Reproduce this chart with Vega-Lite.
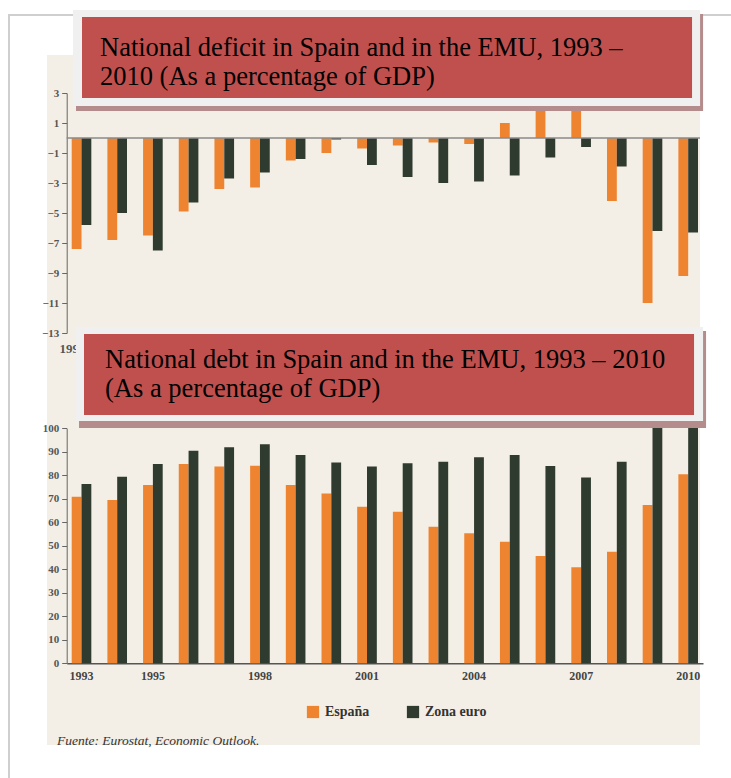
{
  "$schema": "https://vega.github.io/schema/vega-lite/v6.json",
  "width": 653,
  "height": 690,
  "autosize": {"type": "none"},
  "padding": {"left": 47, "top": 55, "right": 31, "bottom": 33},
  "background": "white",
  "view": {"fill": "#f3efe6", "stroke": null},
  "config": {"view": {"stroke": null}},
  "datasets": {
    "deficit": [
      {"year": 1993, "series": "España", "value": -7.4},
      {"year": 1993, "series": "Zona euro", "value": -5.8},
      {"year": 1994, "series": "España", "value": -6.8},
      {"year": 1994, "series": "Zona euro", "value": -5.0},
      {"year": 1995, "series": "España", "value": -6.5},
      {"year": 1995, "series": "Zona euro", "value": -7.5},
      {"year": 1996, "series": "España", "value": -4.9},
      {"year": 1996, "series": "Zona euro", "value": -4.3},
      {"year": 1997, "series": "España", "value": -3.4},
      {"year": 1997, "series": "Zona euro", "value": -2.7},
      {"year": 1998, "series": "España", "value": -3.3},
      {"year": 1998, "series": "Zona euro", "value": -2.3},
      {"year": 1999, "series": "España", "value": -1.5},
      {"year": 1999, "series": "Zona euro", "value": -1.4},
      {"year": 2000, "series": "España", "value": -1.0},
      {"year": 2000, "series": "Zona euro", "value": -0.1},
      {"year": 2001, "series": "España", "value": -0.7},
      {"year": 2001, "series": "Zona euro", "value": -1.8},
      {"year": 2002, "series": "España", "value": -0.5},
      {"year": 2002, "series": "Zona euro", "value": -2.6},
      {"year": 2003, "series": "España", "value": -0.3},
      {"year": 2003, "series": "Zona euro", "value": -3.0},
      {"year": 2004, "series": "España", "value": -0.4},
      {"year": 2004, "series": "Zona euro", "value": -2.9},
      {"year": 2005, "series": "España", "value": 1.0},
      {"year": 2005, "series": "Zona euro", "value": -2.5},
      {"year": 2006, "series": "España", "value": 2.0},
      {"year": 2006, "series": "Zona euro", "value": -1.3},
      {"year": 2007, "series": "España", "value": 2.0},
      {"year": 2007, "series": "Zona euro", "value": -0.6},
      {"year": 2008, "series": "España", "value": -4.2},
      {"year": 2008, "series": "Zona euro", "value": -1.9},
      {"year": 2009, "series": "España", "value": -11.0},
      {"year": 2009, "series": "Zona euro", "value": -6.2},
      {"year": 2010, "series": "España", "value": -9.2},
      {"year": 2010, "series": "Zona euro", "value": -6.3}
    ],
    "debt": [
      {"year": 1993, "series": "España", "value": 70.9},
      {"year": 1993, "series": "Zona euro", "value": 76.3},
      {"year": 1994, "series": "España", "value": 69.5},
      {"year": 1994, "series": "Zona euro", "value": 79.4},
      {"year": 1995, "series": "España", "value": 75.9},
      {"year": 1995, "series": "Zona euro", "value": 84.8},
      {"year": 1996, "series": "España", "value": 84.8},
      {"year": 1996, "series": "Zona euro", "value": 90.5},
      {"year": 1997, "series": "España", "value": 83.7},
      {"year": 1997, "series": "Zona euro", "value": 91.9},
      {"year": 1998, "series": "España", "value": 84.1},
      {"year": 1998, "series": "Zona euro", "value": 93.2},
      {"year": 1999, "series": "España", "value": 75.9},
      {"year": 1999, "series": "Zona euro", "value": 88.6},
      {"year": 2000, "series": "España", "value": 72.3},
      {"year": 2000, "series": "Zona euro", "value": 85.5},
      {"year": 2001, "series": "España", "value": 66.6},
      {"year": 2001, "series": "Zona euro", "value": 83.7},
      {"year": 2002, "series": "España", "value": 64.5},
      {"year": 2002, "series": "Zona euro", "value": 85.1},
      {"year": 2003, "series": "España", "value": 58.1},
      {"year": 2003, "series": "Zona euro", "value": 85.8},
      {"year": 2004, "series": "España", "value": 55.3},
      {"year": 2004, "series": "Zona euro", "value": 87.7},
      {"year": 2005, "series": "España", "value": 51.7},
      {"year": 2005, "series": "Zona euro", "value": 88.6},
      {"year": 2006, "series": "España", "value": 45.7},
      {"year": 2006, "series": "Zona euro", "value": 84.0},
      {"year": 2007, "series": "España", "value": 40.9},
      {"year": 2007, "series": "Zona euro", "value": 79.1},
      {"year": 2008, "series": "España", "value": 47.5},
      {"year": 2008, "series": "Zona euro", "value": 85.8},
      {"year": 2009, "series": "España", "value": 67.4},
      {"year": 2009, "series": "Zona euro", "value": 106},
      {"year": 2010, "series": "España", "value": 80.5},
      {"year": 2010, "series": "Zona euro", "value": 108}
    ]
  },
  "layer": [
    {
      "data": {"values": [{}]},
      "mark": {"type": "rect", "filled": false, "stroke": "#cfcfcf", "strokeWidth": 2},
      "encoding": {
        "x": {"datum": 1990.935, "type": "quantitative", "scale": {"domain": [1992, 2010.3], "range": [0, 653], "nice": false, "zero": false}, "axis": null},
        "x2": {"datum": 2013},
        "y": {"datum": 8.2, "type": "quantitative", "scale": {"domain": [-13, 3], "range": [278, 38], "nice": false, "zero": false}, "axis": null},
        "y2": {"datum": -46}
      }
    },
    {
      "data": {"name": "deficit"},
      "mark": {"type": "bar"},
      "encoding": {
        "x": {
          "field": "year", "type": "ordinal",
          "scale": {"type": "band", "range": [19.7, 656], "paddingInner": 0.45, "paddingOuter": 0.14},
          "axis": {"orient": "bottom", "offset": -412, "domain": false, "ticks": false, "values": [1993], "labelAngle": 0, "title": null, "labelFont": "Liberation Serif", "labelFontWeight": "bold", "labelFontSize": 13, "labelColor": "#555555", "labelPadding": 9, "labelAlign": "right", "labelOffset": 4}
        },
        "xOffset": {"field": "series", "type": "nominal", "sort": ["España", "Zona euro"]},
        "y": {
          "field": "value", "type": "quantitative",
          "scale": {"domain": [-13, 3], "range": [278, 38], "nice": false, "zero": false},
          "axis": {"orient": "left", "offset": -19.7, "values": [3, 1, -1, -3, -5, -7, -9, -11, -13], "title": null, "grid": false, "domainColor": "#666666", "tickColor": "#666666", "tickSize": 5, "labelPadding": 3, "labelFont": "Liberation Serif", "labelFontWeight": "bold", "labelFontSize": 11, "labelColor": "#555555"}
        },
        "color": {
          "field": "series", "type": "nominal",
          "scale": {"domain": ["España", "Zona euro"], "range": ["#ef8430", "#2f3b2e"]},
          "legend": {"title": null, "orient": "none", "direction": "horizontal", "legendX": 259, "legendY": 650, "padding": 0, "symbolType": "square", "symbolSize": 150, "symbolStrokeWidth": 0, "symbolOpacity": 1, "labelFont": "Liberation Serif", "labelFontWeight": "bold", "labelFontSize": 14, "labelColor": "#333333", "labelOffset": 5, "columnPadding": 36}
        }
      }
    },
    {
      "data": {"name": "debt"},
      "mark": {"type": "bar"},
      "encoding": {
        "x": {
          "field": "year", "type": "ordinal",
          "scale": {"type": "band", "range": [19.7, 656], "paddingInner": 0.45, "paddingOuter": 0.14},
          "axis": {"orient": "bottom", "offset": -81.7, "domain": true, "domainColor": "#555555", "domainWidth": 1.5, "ticks": false, "values": [1993, 1995, 1998, 2001, 2004, 2007, 2010], "labelAngle": 0, "title": null, "labelFont": "Liberation Serif", "labelFontWeight": "bold", "labelFontSize": 12, "labelColor": "#444444", "labelPadding": 7}
        },
        "xOffset": {"field": "series", "type": "nominal", "sort": ["España", "Zona euro"]},
        "y": {
          "field": "value", "type": "quantitative",
          "scale": {"domain": [0, 100], "range": [608.3, 373.3], "nice": false},
          "axis": {"orient": "left", "offset": -19.7, "values": [0, 10, 20, 30, 40, 50, 60, 70, 80, 90, 100], "title": null, "grid": false, "domainColor": "#666666", "tickColor": "#666666", "tickSize": 5, "labelPadding": 3, "labelFont": "Liberation Serif", "labelFontWeight": "bold", "labelFontSize": 11, "labelColor": "#555555"}
        },
        "color": {"field": "series", "type": "nominal"}
      }
    },
    {
      "data": {"values": [{}]},
      "mark": {"type": "rule", "color": "#8a8a8a", "strokeWidth": 1.5},
      "encoding": {
        "x": {"datum": 1992.552, "type": "quantitative", "scale": {"domain": [1992, 2010.3], "range": [0, 653], "nice": false, "zero": false}, "axis": null},
        "x2": {"datum": 2010.3},
        "y": {"datum": 0, "type": "quantitative", "scale": {"domain": [-13, 3], "range": [278, 38], "nice": false, "zero": false}, "axis": null}
      }
    },
    {
      "data": {"values": [{}]},
      "mark": {"type": "rect", "color": "#b48c8c"},
      "encoding": {
        "x": {"datum": 1992.813, "type": "quantitative", "scale": {"domain": [1992, 2010.3], "range": [0, 653], "nice": false, "zero": false}, "axis": null},
        "x2": {"datum": 2010.386},
        "y": {"datum": 8.267, "type": "quantitative", "scale": {"domain": [-13, 3], "range": [278, 38], "nice": false, "zero": false}, "axis": null},
        "y2": {"datum": 1.8}
      }
    },
    {
      "data": {"values": [{}]},
      "mark": {"type": "rect", "color": "#f0f0f0"},
      "encoding": {
        "x": {"datum": 1992.729, "type": "quantitative", "scale": {"domain": [1992, 2010.3], "range": [0, 653], "nice": false, "zero": false}, "axis": null},
        "x2": {"datum": 2010.302},
        "y": {"datum": 8.533, "type": "quantitative", "scale": {"domain": [-13, 3], "range": [278, 38], "nice": false, "zero": false}, "axis": null},
        "y2": {"datum": 2.133}
      }
    },
    {
      "data": {"values": [{}]},
      "mark": {"type": "rect", "color": "#c0504d"},
      "encoding": {
        "x": {"datum": 1992.981, "type": "quantitative", "scale": {"domain": [1992, 2010.3], "range": [0, 653], "nice": false, "zero": false}, "axis": null},
        "x2": {"datum": 2010.077},
        "y": {"datum": 8.067, "type": "quantitative", "scale": {"domain": [-13, 3], "range": [278, 38], "nice": false, "zero": false}, "axis": null},
        "y2": {"datum": 2.667}
      }
    },
    {
      "data": {"values": [{"label": "National deficit in Spain and in the EMU, 1993 –\n2010 (As a percentage of GDP)"}]},
      "mark": {"type": "text", "align": "left", "baseline": "middle", "font": "Liberation Serif", "fontSize": 26.5, "lineBreak": "\n", "lineHeight": 29, "color": "#000000"},
      "encoding": {
        "x": {"datum": 1993.485, "type": "quantitative", "scale": {"domain": [1992, 2010.3], "range": [0, 653], "nice": false, "zero": false}, "axis": null},
        "y": {"datum": 6.0, "type": "quantitative", "scale": {"domain": [-13, 3], "range": [278, 38], "nice": false, "zero": false}, "axis": null},
        "text": {"field": "label"}
      }
    },
    {
      "data": {"values": [{}]},
      "mark": {"type": "rect", "color": "#b48c8c"},
      "encoding": {
        "x": {"datum": 1992.897, "type": "quantitative", "scale": {"domain": [1992, 2010.3], "range": [0, 653], "nice": false, "zero": false}, "axis": null},
        "x2": {"datum": 2010.47},
        "y": {"datum": 141.4, "type": "quantitative", "scale": {"domain": [0, 100], "range": [608.3, 373.3], "nice": false}, "axis": null},
        "y2": {"datum": 100.1}
      }
    },
    {
      "data": {"values": [{}]},
      "mark": {"type": "rect", "color": "#f0f0f0"},
      "encoding": {
        "x": {"datum": 1992.813, "type": "quantitative", "scale": {"domain": [1992, 2010.3], "range": [0, 653], "nice": false, "zero": false}, "axis": null},
        "x2": {"datum": 2010.386},
        "y": {"datum": 143.1, "type": "quantitative", "scale": {"domain": [0, 100], "range": [608.3, 373.3], "nice": false}, "axis": null},
        "y2": {"datum": 103.1}
      }
    },
    {
      "data": {"values": [{}]},
      "mark": {"type": "rect", "color": "#c0504d"},
      "encoding": {
        "x": {"datum": 1993.037, "type": "quantitative", "scale": {"domain": [1992, 2010.3], "range": [0, 653], "nice": false, "zero": false}, "axis": null},
        "x2": {"datum": 2010.133},
        "y": {"datum": 140.1, "type": "quantitative", "scale": {"domain": [0, 100], "range": [608.3, 373.3], "nice": false}, "axis": null},
        "y2": {"datum": 105.66}
      }
    },
    {
      "data": {"values": [{"label": "National debt in Spain and in the EMU, 1993 – 2010\n(As a percentage of GDP)"}]},
      "mark": {"type": "text", "align": "left", "baseline": "middle", "font": "Liberation Serif", "fontSize": 26.5, "lineBreak": "\n", "lineHeight": 29, "color": "#000000"},
      "encoding": {
        "x": {"datum": 1993.626, "type": "quantitative", "scale": {"domain": [1992, 2010.3], "range": [0, 653], "nice": false, "zero": false}, "axis": null},
        "y": {"datum": 129.1, "type": "quantitative", "scale": {"domain": [0, 100], "range": [608.3, 373.3], "nice": false}, "axis": null},
        "text": {"field": "label"}
      }
    },
    {
      "data": {"values": [{"label": "Fuente: Eurostat, Economic Outlook."}]},
      "mark": {"type": "text", "align": "left", "baseline": "middle", "font": "Liberation Serif", "fontStyle": "italic", "fontSize": 13.5, "color": "#333333"},
      "encoding": {
        "x": {"datum": 1992.28, "type": "quantitative", "scale": {"domain": [1992, 2010.3], "range": [0, 653], "nice": false, "zero": false}, "axis": null},
        "y": {"datum": -33.06, "type": "quantitative", "scale": {"domain": [0, 100], "range": [608.3, 373.3], "nice": false}, "axis": null},
        "text": {"field": "label"}
      }
    }
  ],
  "resolve": {"scale": {"x": "independent", "y": "independent"}, "axis": {"x": "independent", "y": "independent"}}
}
